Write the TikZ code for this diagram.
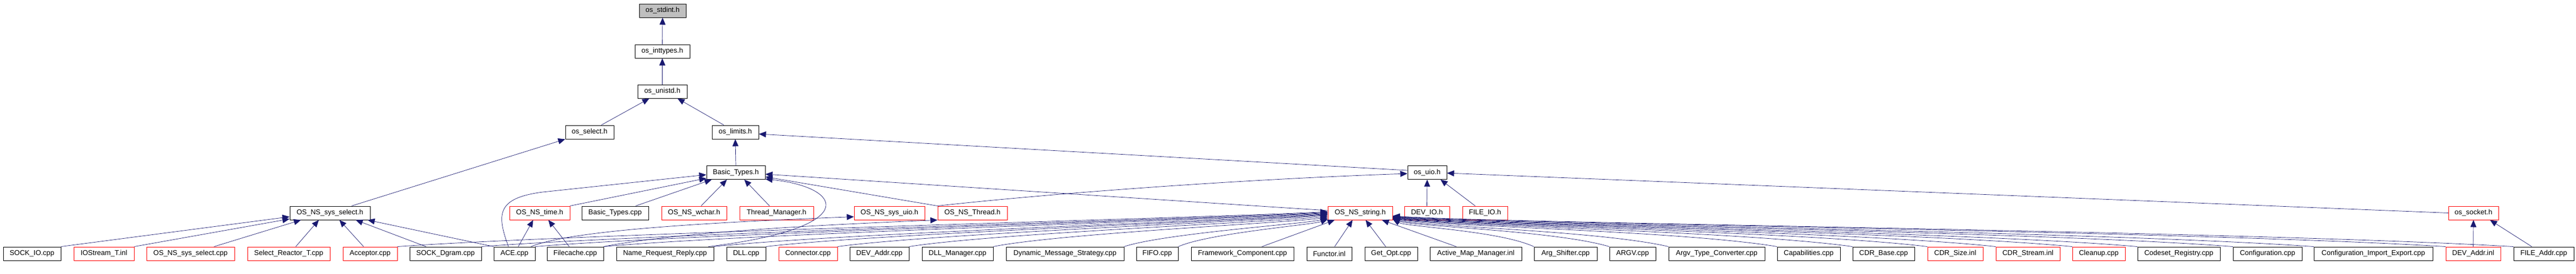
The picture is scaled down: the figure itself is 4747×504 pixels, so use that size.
\documentclass[tikz,border=0pt]{standalone}
\usepackage{fontspec}
\setmainfont{Liberation Sans}
\usetikzlibrary{arrows.meta,calc}
\definecolor{edgeblue}{RGB}{25,25,112}
\definecolor{boxred}{RGB}{255,0,0}
\definecolor{rootgray}{RGB}{191,191,191}
\begin{document}
\begin{tikzpicture}[x=1pt,y=-1pt,
  box/.style={draw=black, line width=1pt, fill=white, minimum height=25pt, inner sep=0pt, font=\fontsize{13}{15}\selectfont},
  redbox/.style={box, draw=boxred},
  rootbox/.style={box, fill=rootgray},
  edge/.style={draw=edgeblue, line width=0.7pt, -{Triangle[length=13pt,width=11pt]}},
]
\useasboundingbox (0,0) rectangle (4747,504);

% upper ranks
\node[rootbox, minimum width=86pt]  (stdint)   at (1221,19.5)   {os\_stdint.h};
\node[box, minimum width=101pt]     (inttypes) at (1220.5,94.5) {os\_inttypes.h};
\node[box, minimum width=91pt]      (unistd)   at (1220.5,168.5){os\_unistd.h};
\node[box, minimum width=89pt]      (select)   at (1086.5,243.5){os\_select.h};
\node[box, minimum width=86pt]      (limits)   at (1355,243.5)  {os\_limits.h};
\node[box, minimum width=108pt]     (btypes)   at (1356,318)    {Basic\_Types.h};
\node[box, minimum width=72pt]      (uio)      at (2630,318)    {os\_uio.h};

% rank 5
\node[box, minimum width=148pt]    (nssel)   at (608,392.5)   {OS\_NS\_sys\_select.h};
\node[redbox, minimum width=111pt] (nstime)  at (994.5,392.5) {OS\_NS\_time.h};
\node[box, minimum width=123pt]    (btcpp)   at (1133.5,392.5){Basic\_Types.cpp};
\node[redbox, minimum width=120pt] (nswchar) at (1279,392.5)  {OS\_NS\_wchar.h};
\node[redbox, minimum width=136pt] (thrmgr)  at (1431,392.5)  {Thread\_Manager.h};
\node[redbox, minimum width=130pt] (nsuio)   at (1639,392.5)  {OS\_NS\_sys\_uio.h};
\node[redbox, minimum width=128pt] (nsthr)   at (1792,392.5)  {OS\_NS\_Thread.h};
\node[redbox, minimum width=119pt] (nsstr)   at (2506.5,392.5){OS\_NS\_string.h};
\node[redbox, minimum width=83pt]  (devio)   at (2629.5,392.5){DEV\_IO.h};
\node[redbox, minimum width=83pt]  (fileio)  at (2736.5,392.5){FILE\_IO.h};
\node[redbox, minimum width=92pt]  (socket)  at (4558,392.5)  {os\_socket.h};

% bottom rank
\node[box, minimum width=106pt]    (sockio)     at (59,467.5)    {SOCK\_IO.cpp};
\node[redbox, minimum width=111pt] (iostr)      at (191.5,467.5) {IOStream\_T.inl};
\node[redbox, minimum width=162pt] (nsselcpp)   at (351,467.5)   {OS\_NS\_sys\_select.cpp};
\node[redbox, minimum width=152pt] (selreact)   at (532,467.5)   {Select\_Reactor\_T.cpp};
\node[redbox, minimum width=100pt] (acceptor)   at (682,467.5)   {Acceptor.cpp};
\node[box, minimum width=132pt]    (sockdg)     at (821,467.5)   {SOCK\_Dgram.cpp};
\node[box, minimum width=76pt]     (ace)        at (948,467.5)   {ACE.cpp};
\node[box, minimum width=104pt]    (filecache)  at (1060,467.5)  {Filecache.cpp};
\node[box, minimum width=179pt]    (namereq)    at (1225.5,467.5){Name\_Request\_Reply.cpp};
\node[box, minimum width=72pt]     (dll)        at (1375,467.5)  {DLL.cpp};
\node[redbox, minimum width=108pt] (connector)  at (1489,467.5)  {Connector.cpp};
\node[box, minimum width=109pt]    (devaddr)    at (1620.5,467.5){DEV\_Addr.cpp};
\node[box, minimum width=131pt]    (dllmgr)     at (1764.5,467.5){DLL\_Manager.cpp};
\node[box, minimum width=217pt]    (dynmsg)     at (1962.5,467.5){Dynamic\_Message\_Strategy.cpp};
\node[box, minimum width=77pt]     (fifo)       at (2132.5,467.5){FIFO.cpp};
\node[box, minimum width=189pt]    (fwcomp)     at (2289.5,467.5){Framework\_Component.cpp};
\node[box, minimum width=83pt]     (functor)    at (2449.5,467.5){Functor.inl};
\node[box, minimum width=97pt]     (getopt)     at (2563.5,467.5){Get\_Opt.cpp};
\node[box, minimum width=169pt]    (activemap)  at (2719.5,467.5){Active\_Map\_Manager.inl};
\node[box, minimum width=116pt]    (argshift)   at (2885,467.5)  {Arg\_Shifter.cpp};
\node[box, minimum width=85pt]     (argv)       at (3008.5,467.5){ARGV.cpp};
\node[box, minimum width=177pt]    (argvtc)     at (3163.5,467.5){Argv\_Type\_Converter.cpp};
\node[box, minimum width=116pt]    (capab)      at (3333,467.5)  {Capabilities.cpp};
\node[box, minimum width=114pt]    (cdrbase)    at (3471,467.5)  {CDR\_Base.cpp};
\node[redbox, minimum width=102pt] (cdrsize)    at (3603,467.5)  {CDR\_Size.inl};
\node[redbox, minimum width=118pt] (cdrstream)  at (3737,467.5)  {CDR\_Stream.inl};
\node[redbox, minimum width=97pt]  (cleanup)    at (3867.5,467.5){Cleanup.cpp};
\node[box, minimum width=152pt]    (codeset)    at (4015,467.5)  {Codeset\_Registry.cpp};
\node[box, minimum width=127pt]    (config)     at (4178.5,467.5){Configuration.cpp};
\node[box, minimum width=219pt]    (configie)   at (4373.5,467.5){Configuration\_Import\_Export.cpp};
\node[redbox, minimum width=101pt] (devaddrinl) at (4557.5,467.5){DEV\_Addr.inl};
\node[box, minimum width=111pt]    (fileaddr)   at (4687.5,467.5){FILE\_Addr.cpp};

% upper edges
\draw[edge] (inttypes.north) -- (stdint.south);
\draw[edge] (unistd.north) -- (inttypes.south);
\draw[edge] ([xshift=21.5pt]select.north) -- ([xshift=22pt]unistd.south west);
\draw[edge] ([xshift=-21pt]limits.north) -- ([xshift=-18pt]unistd.south east);
\draw[edge] (btypes.north) -- (limits.south);
\draw[edge] ([yshift=4pt]uio.west) -- ([yshift=-3.5pt]limits.east);
\draw[edge] ([xshift=40pt]nssel.north) -- (select.south west);

% into Basic_Types.h
\draw[edge] (nstime.north east) -- ([yshift=-10.5pt]btypes.west);
\draw[edge] ([xshift=-11pt]ace.north) .. controls (915,395) and (915,365) .. (1000,354) -- ([yshift=-4pt]btypes.west);
\draw[edge] ([xshift=38pt]btcpp.north) -- ([xshift=10pt]btypes.south west);
\draw[edge] ([xshift=13pt]nswchar.north) -- ([xshift=38pt]btypes.south west);
\draw[edge] ([xshift=-13pt]thrmgr.north) -- ([xshift=70pt]btypes.south west);
\draw[edge] ([yshift=4.5pt]nsstr.west) -- ([yshift=-3pt]btypes.east);
\draw[edge] (nsthr.north west) -- ([yshift=-8pt]btypes.east);
\draw[edge] ([xshift=-10pt]namereq.north east) .. controls (1590,420) and (1555,345) .. ([yshift=-12pt]btypes.east);

% into os_uio.h
\draw[edge] (nsthr.north west) .. controls (1950,355) and (2300,330) .. ([yshift=-2pt]uio.west);
\draw[edge] (devio.north) -- (uio.south);
\draw[edge] ([xshift=-18pt]fileio.north) -- ([xshift=-12pt]uio.south east);
\draw[edge] (socket.west) -- ([yshift=-1pt]uio.east);

% into os_socket.h
\draw[edge] (devaddrinl.north) -- (socket.south);
\draw[edge] ([xshift=-22pt]fileaddr.north) -- ([xshift=-16pt]socket.south east);

% into OS_NS_sys_select.h
\draw[edge] (sockio.north east) -- ([yshift=-7pt]nssel.west);
\draw[edge] (iostr.north east) -- ([yshift=-11pt]nssel.west);
\draw[edge] ([xshift=-38pt]nsselcpp.north east) -- ([xshift=21pt]nssel.south west);
\draw[edge] ([xshift=13pt]selreact.north) -- ([xshift=54pt]nssel.south west);
\draw[edge] ([xshift=-12pt]acceptor.north) -- ([xshift=92pt]nssel.south west);
\draw[edge] ([xshift=-36pt]sockdg.north) -- ([xshift=122pt]nssel.south west);
\draw[edge] (ace.north west) -- ([xshift=144pt]nssel.south west);

% into OS_NS_time.h
\draw[edge] ([xshift=7pt]ace.north) -- ([xshift=44pt]nstime.south west);
\draw[edge] ([xshift=-11pt]filecache.north) -- ([xshift=72pt]nstime.south west);

% into OS_NS_sys_uio.h and OS_NS_Thread.h
\draw[edge] ([xshift=-8pt]ace.north east) .. controls (1050,425) and (1300,410) .. ([yshift=-7pt]nsuio.west);
\draw[edge] (filecache.north east) .. controls (1250,428) and (1500,415) .. (nsthr.south west);

% into OS_NS_string.h from below
\draw[edge] ([xshift=36pt]fwcomp.north) -- ([xshift=13pt]nsstr.south west);
\draw[edge] ([xshift=10pt]functor.north) -- ([xshift=46pt]nsstr.south west);
\draw[edge] ([xshift=-10pt]getopt.north) -- ([xshift=70pt]nsstr.south west);
\draw[edge] ([xshift=-36pt]activemap.north) -- ([xshift=100pt]nsstr.south west);

% left fan into OS_NS_string.h
\foreach \s/\xs/\dy in {acceptor/733/2.5, sockdg/887/1.5, ace/986/0.5, filecache/1112/-0.5, namereq/1315/-1.5, dll/1411/-2.5, connector/1543/-3.5, devaddr/1675/-5.5, dllmgr/1830/-7.5, dynmsg/2071/-9.5, fifo/2171/-11.5}
  \draw[edge] (\s.north east) .. controls ({\xs+0.2*(2447-\xs)},430) and ({2447-0.1*(2447-\xs)},{392.5-\dy+10}) .. ([yshift=\dy pt]nsstr.west);

% right fan into OS_NS_string.h
\foreach \s/\xs/\dy in {argshift/2827/-11.5, argv/2966/-11, argvtc/3075/-10.5, capab/3275/-10, cdrbase/3414/-9.5, cdrsize/3552/-9, cdrstream/3678/-8.5, cleanup/3819/-8, codeset/3939/-7.5, config/4115/-7, configie/4264/-6.5, devaddrinl/4507/-6, fileaddr/4632/-5.5}
  \draw[edge] (\s.north west) .. controls ({\xs-0.25*(\xs-2566)},425) and ({2566+0.1*(\xs-2566)},{392.5-\dy+14}) .. ([yshift=\dy pt]nsstr.east);
\end{tikzpicture}
\end{document}
